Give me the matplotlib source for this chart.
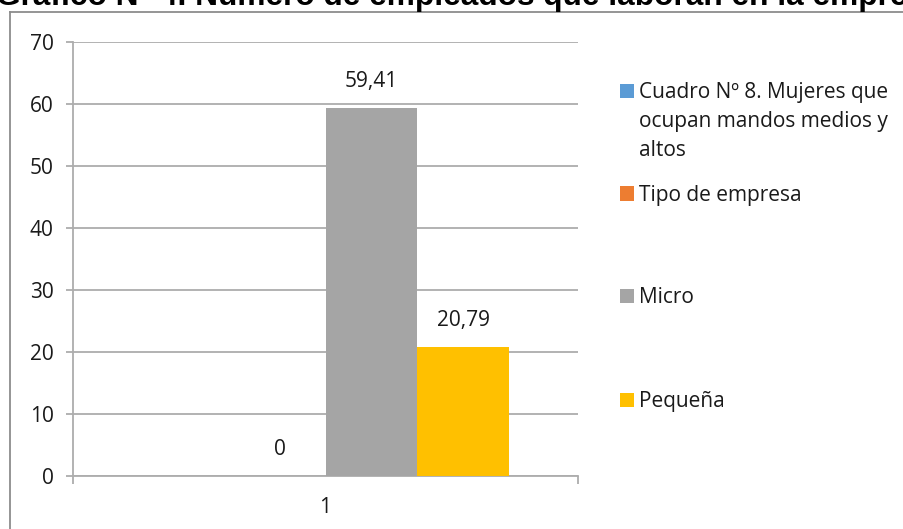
import matplotlib
matplotlib.use("Agg")
import matplotlib.pyplot as plt
from matplotlib.patches import Rectangle
from matplotlib.lines import Line2D
import numpy as np

# --- data -------------------------------------------------------------
title = "Gráfico N° 4. Número de empleados que laboran en la empresa"
categories = ["1"]
series_names = [
    "Cuadro Nº 8. Mujeres que\nocupan mandos medios y\naltos",
    "Tipo de empresa",
    "Micro",
    "Pequeña",
]
series_values = [None, 0, 59.41, 20.79]   # first series has no value
value_labels = [None, "0", "59,41", "20,79"]
y_ticks = [0, 10, 20, 30, 40, 50, 60, 70]

# --- style ------------------------------------------------------------
colors = ["#5B9BD5", "#ED7D31", "#A5A5A5", "#FFC000"]
grid_color = "#ADADAD"
text_font = ["Open Sans", "DejaVu Sans"]
fs = 15
W, H = 904, 529
DPI = 100

fig = plt.figure(figsize=(W / DPI, H / DPI), dpi=DPI)
fig.patch.set_facecolor("white")

# plot area in pixel coordinates
ax_left, ax_right, ax_top, ax_bottom = 73, 578, 42, 476
ax = fig.add_axes([ax_left / W, 1 - ax_bottom / H,
                   (ax_right - ax_left) / W, (ax_bottom - ax_top) / H])

n = len(series_names)
bar_w = 0.182
x0 = np.arange(len(categories)) + 1
for i, (name, vals, c, lab) in enumerate(zip(series_names, series_values, colors, value_labels)):
    if vals is None:
        continue
    xpos = x0 + (i - (n - 1) / 2) * bar_w
    bars = ax.bar(xpos, [vals], width=bar_w, color=c, zorder=3)
    if lab is not None:
        for b in bars:
            ax.annotate(lab, (b.get_x() + b.get_width() / 2, b.get_height()),
                        xytext=(0, 19), textcoords="offset points",
                        ha="center", va="center", fontsize=fs,
                        family=text_font, color="#1a1a1a")

ax.set_xlim(0.5, len(categories) + 0.5)
ax.set_ylim(0, 70)
ax.set_yticks(y_ticks)
ax.set_yticklabels([str(t) for t in y_ticks], family=text_font, fontsize=fs, color="#1a1a1a")
ax.yaxis.grid(True, color=grid_color, linewidth=1.3, zorder=0)
ax.set_axisbelow(True)

ax.set_xticks(x0)
ax.set_xticklabels(categories, family=text_font, fontsize=fs, color="#1a1a1a")
ax.set_xticks([0.5, len(categories) + 0.5], minor=True)
ax.tick_params(axis="x", which="major", length=0, pad=15)
ax.tick_params(axis="x", which="minor", length=6, width=1.3, color=grid_color, direction="out")
ax.tick_params(axis="y", length=5, width=1.3, color=grid_color, pad=9)

for s in ["top", "right"]:
    ax.spines[s].set_visible(False)
for s in ["left", "bottom"]:
    ax.spines[s].set_color(grid_color)
    ax.spines[s].set_linewidth(1.3)

# outer chart frame (runs off the right and bottom edges)
fig.add_artist(Line2D([9.5 / W, 9.5 / W], [0, 1 - 12 / H], transform=fig.transFigure,
                      color="#8C8C8C", linewidth=1.3))
fig.add_artist(Line2D([9.5 / W, 1], [1 - 12 / H, 1 - 12 / H], transform=fig.transFigure,
                      color="#8C8C8C", linewidth=1.3))

# title, partly above the top edge
fig.text(-4 / W, 1 - 5 / H, title, ha="left", va="baseline",
         fontsize=22.8, fontweight="bold", family=["Liberation Sans", "DejaVu Sans"])

# legend: marker square, then the label line by line
legend_marker_y = [91, 193.5, 296, 400]
line_step = 29
for name, c, yc in zip(series_names, colors, legend_marker_y):
    fig.add_artist(Rectangle((620 / W, 1 - (yc + 7) / H), 14 / W, 14 / H,
                             transform=fig.transFigure, facecolor=c, edgecolor="none"))
    for k, line in enumerate(name.split("\n")):
        fig.text(639 / W, 1 - (yc + 7 + k * line_step) / H, line, ha="left", va="baseline",
                 fontsize=fs, family=text_font, color="#1a1a1a")

fig.savefig("out.png", dpi=DPI)
